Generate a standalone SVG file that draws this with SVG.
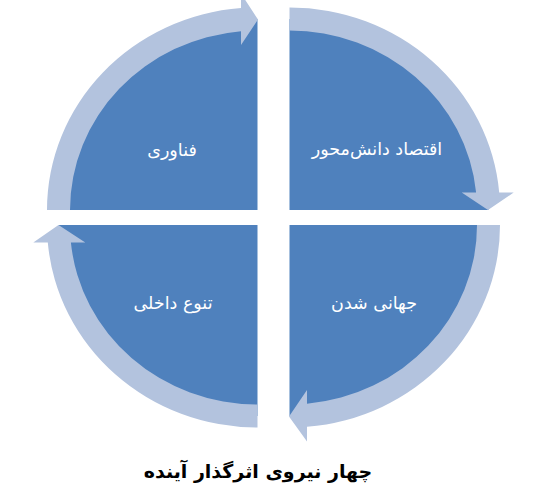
<svg xmlns="http://www.w3.org/2000/svg" width="539" height="493" viewBox="0 0 539 493">
<style>
.q{fill:#4f81bd}
.band{fill:#b3c3de}
.lbl{font-family:"DejaVu Sans","Noto Sans",sans-serif;font-size:17.5px;fill:#ffffff;text-anchor:middle;direction:rtl}
.title{font-family:"DejaVu Sans","Liberation Sans",sans-serif;font-size:19px;font-weight:bold;fill:#000000;text-anchor:middle;direction:rtl}
</style>
<rect width="539" height="493" fill="#ffffff"/>
<g id="node-fanavari">
<path class="q" d="M257.5 210 L58.5 210 A199 191 0 0 1 257.5 19 Z"/>
<text class="lbl" x="172" y="156">فناوری</text>
</g>
<g id="node-eghtesad">
<path class="q" d="M289.5 210 L289.5 19 A199 191 0 0 1 488.5 210 Z"/>
<text class="lbl" x="377" y="155">اقتصاد دانش&#x200C;محور</text>
</g>
<g id="node-jahani">
<path class="q" d="M289.5 225 L488.5 225 A199 191 0 0 1 289.5 416 Z"/>
<text class="lbl" x="374" y="309">جهانی شدن</text>
</g>
<g id="node-tanavo">
<path class="q" d="M257.5 225 L257.5 416 A199 191 0 0 1 58.5 225 Z"/>
<text class="lbl" x="173" y="309">تنوع داخلی</text>
</g>
<g id="connectors">
<path class="band" d="M47 210 A210.5 202.5 0 0 1 241 8.1 L241 -6.5 L258 19.5 L241 45 L241 31.2 A187.5 179.5 0 0 0 70 210 Z"/>
<path class="band" d="M289.5 7.5 A210.5 202.5 0 0 1 499.2 192.5 L513.7 192.5 L488 210 L461.7 192.5 L476.1 192.5 A187.5 179.5 0 0 0 289.5 30.5 Z"/>
<path class="band" d="M500 225 A210.5 202.5 0 0 1 307 426.8 L307 441.5 L289 416.5 L307 390 L307 403.7 A187.5 179.5 0 0 0 477 225 Z"/>
<path class="band" d="M257.5 427.5 A210.5 202.5 0 0 1 47.8 242.5 L33.3 242.5 L58.5 225 L85.3 242.5 L70.9 242.5 A187.5 179.5 0 0 0 257.5 404.5 Z"/>
</g>
<text class="title" x="258" y="478">چهار نیروی اثرگذار آینده</text>
</svg>
